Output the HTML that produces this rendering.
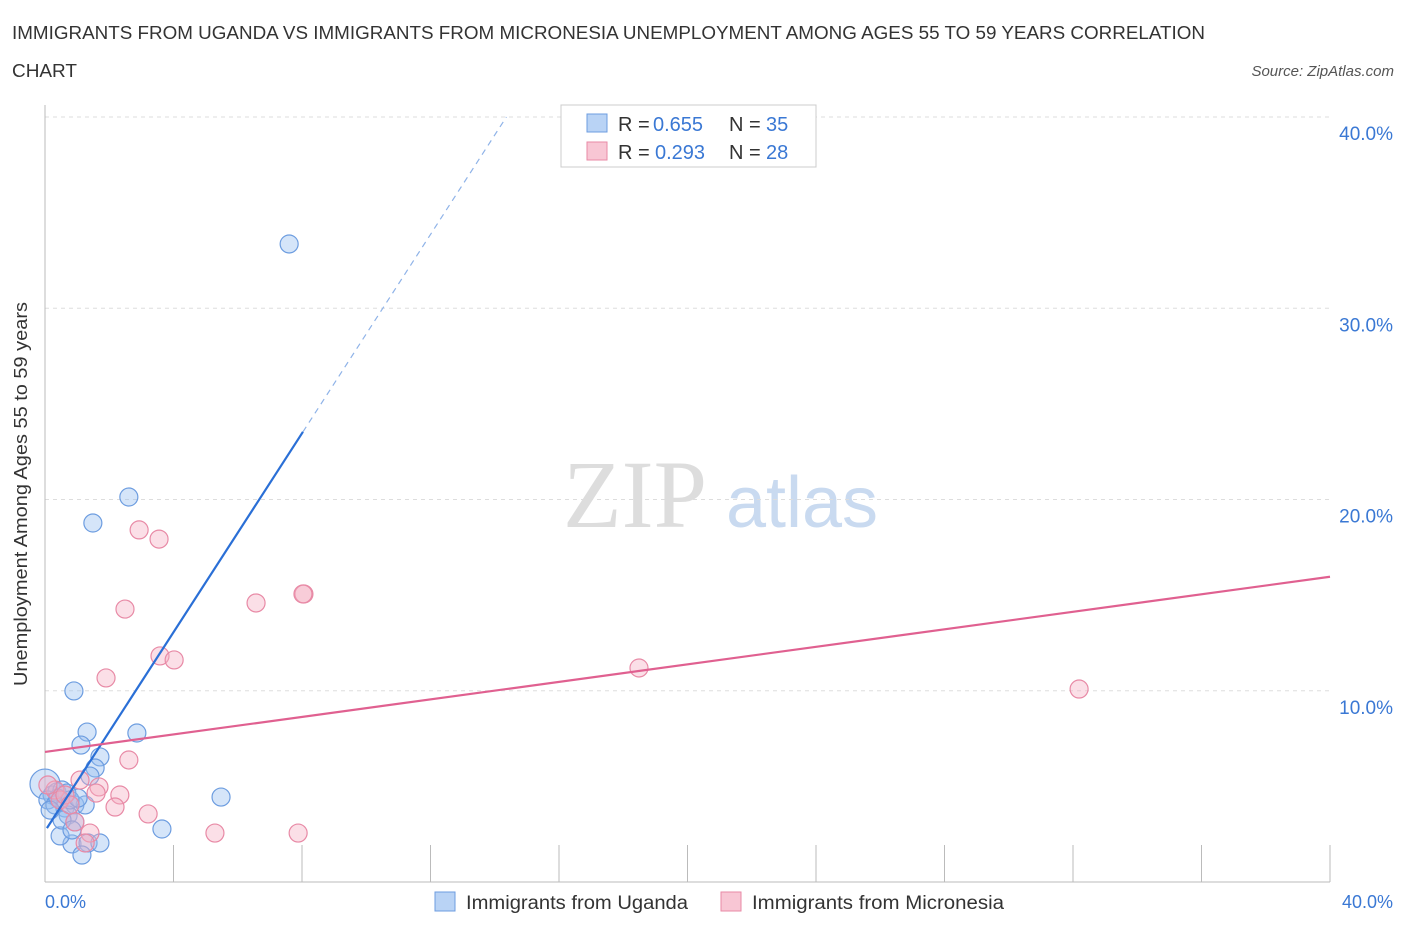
<!DOCTYPE html>
<html><head><meta charset="utf-8"><style>
body{margin:0;background:#fff;font-family:"Liberation Sans",sans-serif;}
</style></head><body>
<svg width="1406" height="930" xmlns="http://www.w3.org/2000/svg">
<text x="12" y="39" font-size="18" fill="#333" textLength="1193" lengthAdjust="spacingAndGlyphs">IMMIGRANTS FROM UGANDA VS IMMIGRANTS FROM MICRONESIA UNEMPLOYMENT AMONG AGES 55 TO 59 YEARS CORRELATION</text>
<text x="12" y="77" font-size="18" fill="#333" textLength="65" lengthAdjust="spacingAndGlyphs">CHART</text>
<text x="1394" y="76" font-size="15" fill="#555" font-style="italic" text-anchor="end">Source: ZipAtlas.com</text>
<text x="635" y="527" font-size="96" fill="#ddd" font-family="Liberation Serif,serif" text-anchor="middle">ZIP</text>
<text x="802" y="527" font-size="72" fill="#c9daf0" text-anchor="middle">atlas</text>
<g id="grid"></g>
<line x1="45" y1="105" x2="45" y2="882" stroke="#bbb"/>
<line x1="45" y1="882" x2="1330" y2="882" stroke="#bbb"/>
<text x="27" y="494" font-size="18" fill="#333" text-anchor="middle" textLength="384" lengthAdjust="spacingAndGlyphs" transform="rotate(-90 27 494)">Unemployment Among Ages 55 to 59 years</text>
<text x="45" y="908" font-size="18" fill="#3a78d4">0.0%</text>
<text x="1393" y="908" font-size="18" fill="#3a78d4" text-anchor="end">40.0%</text>
<g id="marks"></g>
<rect x="561" y="105" width="255" height="62" fill="#fff" stroke="#ccc"/>
<rect x="587" y="114" width="20" height="18" fill="#b9d3f5" stroke="#6d9de0"/>
<rect x="587" y="142" width="20" height="18" fill="#f8c6d4" stroke="#e88aa6"/>
<g font-size="20" fill="#333">
<text x="618" y="131">R =</text><text x="653" y="131" fill="#3a78d4">0.655</text><text x="729" y="131">N =</text><text x="766" y="131" fill="#3a78d4">35</text></g>
<g font-size="20" fill="#333">
<text x="618" y="159">R =</text><text x="655" y="159" fill="#3a78d4">0.293</text><text x="729" y="159">N =</text><text x="766" y="159" fill="#3a78d4">28</text></g>
<rect x="435" y="892" width="20" height="19" fill="#b9d3f5" stroke="#6d9de0"/>
<text x="466" y="909" font-size="19" fill="#333" textLength="222" lengthAdjust="spacingAndGlyphs">Immigrants from Uganda</text>
<rect x="721" y="892" width="20" height="19" fill="#f8c6d4" stroke="#e88aa6"/>
<text x="752" y="909" font-size="19" fill="#333" textLength="252" lengthAdjust="spacingAndGlyphs">Immigrants from Micronesia</text>
</svg>
<script>
const yTicks=[10,20,30,40];
const yTickLabels=["10.0%","20.0%","30.0%","40.0%"];
const xTicks=[0,4,8,12,16,20,24,28,32,36,40];
const ugandaX=[7.60,2.61,1.49,0.90,1.31,2.86,1.12,1.71,1.56,1.40,5.48,3.64,0.84,1.34,1.15,0.47,0,0.22,0.37,0.53,0.68,0.09,0.31,0.62,0.93,1.25,0.72,0.93,0.53,0.84,1.71,0.40,0.16,0.78,1.03];
const ugandaY=[33.36,20.13,18.77,9.99,7.84,7.79,7.16,6.54,5.96,5.54,4.44,2.77,1.99,2.04,1.41,2.41,5.12,4.55,4.71,4.81,4.65,4.29,4.03,3.87,4.03,4.03,3.50,3.14,3.24,2.72,2.04,4.39,3.76,4.29,4.39];
const microX=[2.93,3.55,2.49,6.57,8.06,8.03,3.58,4.02,1.90,18.49,32.19,2.61,1.09,1.68,1.59,2.33,2.18,3.21,5.29,7.88,1.40,1.25,0.93,0.31,0.09,0.47,0.62,0.78];
const microY=[18.41,17.93,14.27,14.59,15.06,15.06,11.82,11.61,10.67,11.19,10.09,6.38,5.33,4.97,4.65,4.55,3.92,3.56,2.56,2.56,2.56,2.04,3.14,4.81,5.07,4.29,4.55,4.03];
const ugandaTrend=[2.66,2.6];
const microTrend=[6.80,0.229];
const X=v=>45+v*32.125, Y=v=>882-v*19.125;
const NS="http://www.w3.org/2000/svg";
function mk(t,a,p){const e=document.createElementNS(NS,t);for(const k in a)e.setAttribute(k,a[k]);p.appendChild(e);return e;}
const grid=document.getElementById('grid'), marks=document.getElementById('marks');
yTicks.forEach((t,i)=>{
 const l=mk('line',{x1:45,x2:1330,y1:Y(t),y2:Y(t),stroke:'#ddd','stroke-dasharray':'4,4'},grid);
 
 
 const tx=mk('text',{x:1393,y:Y(t)+23,'font-size':19,fill:'#3a78d4','text-anchor':'end'},grid);
 tx.textContent=yTickLabels[i];
 
 
});
xTicks.forEach(t=>{
 const l=mk('line',{x1:X(t),x2:X(t),y1:845,y2:882,stroke:'#bbb'},grid);
 
 
});
ugandaX.forEach((x,i)=>{
 const c=mk('circle',{cx:X(x),cy:Y(ugandaY[i]),r:x===0?15:9,fill:'rgba(150,190,240,0.4)',stroke:'#6d9de0','stroke-width':1.2},marks);
 
 
});
microX.forEach((x,i)=>{
 const c=mk('circle',{cx:X(x),cy:Y(microY[i]),r:9,fill:'rgba(245,175,195,0.4)',stroke:'#e88aa6','stroke-width':1.2},marks);
 
 
});
const ub=ugandaTrend[0],um=ugandaTrend[1];
const x0=0.06,x1=8.03,x2=(40-ub)/um;
const t1=mk('line',{x1:X(x0),y1:Y(ub+um*x0),x2:X(x1),y2:Y(ub+um*x1),stroke:'#2a6fd6','stroke-width':2.2},marks);


const t2=mk('line',{x1:X(x1),y1:Y(ub+um*x1),x2:X(x2),y2:Y(40),stroke:'#8fb3e8','stroke-width':1.2,'stroke-dasharray':'6,5'},marks);


const t3=mk('line',{x1:X(0),y1:Y(microTrend[0]),x2:X(40),y2:Y(microTrend[0]+microTrend[1]*40),stroke:'#e06090','stroke-width':2.2},marks);


</script>
</body></html>
